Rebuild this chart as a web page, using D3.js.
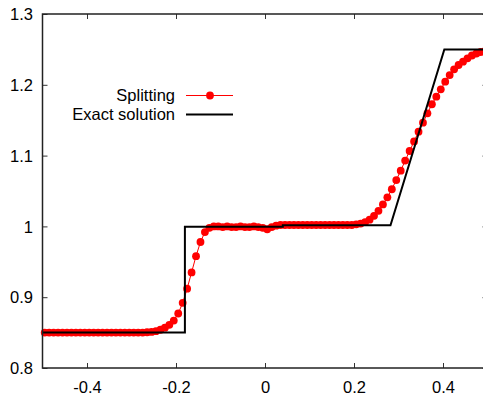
<!DOCTYPE html>
<html>
<head>
<meta charset="utf-8">
<script src="https://cdn.jsdelivr.net/npm/d3@7/dist/d3.min.js"></script>
<style>
  html, body { margin: 0; padding: 0; background: #fff; }
  svg { display: block; }
  text { font-family: "Liberation Sans", Arial, sans-serif; font-size: 16.5px; fill: #000; }
</style>
</head>
<body>
<svg id="chart" width="483" height="401"></svg>
<script>
// ---- data ----
const splitX = [
  -0.495,-0.485,-0.475,-0.465,-0.455,-0.445,-0.435,-0.425,-0.415,-0.405,
  -0.395,-0.385,-0.375,-0.365,-0.355,-0.345,-0.335,-0.325,-0.315,-0.305,
  -0.295,-0.285,-0.275,-0.265,-0.255,-0.245,-0.235,-0.225,-0.215,-0.205,
  -0.195,-0.185,-0.175,-0.165,-0.155,-0.145,-0.135,-0.125,-0.115,-0.105,
  -0.095,-0.085,-0.075,-0.065,-0.055,-0.045,-0.035,-0.025,-0.015,-0.005,
   0.005, 0.015, 0.025, 0.035, 0.045, 0.055, 0.065, 0.075, 0.085, 0.095,
   0.105, 0.115, 0.125, 0.135, 0.145, 0.155, 0.165, 0.175, 0.185, 0.195,
   0.205, 0.215, 0.225, 0.235, 0.245, 0.255, 0.265, 0.275, 0.285, 0.295,
   0.305, 0.315, 0.325, 0.335, 0.345, 0.355, 0.365, 0.375, 0.385, 0.395,
   0.405, 0.415, 0.425, 0.435, 0.445, 0.455, 0.465, 0.475, 0.485, 0.495
];
const splitY = [
  0.850,0.850,0.850,0.850,0.850,0.850,0.850,0.850,0.850,0.850,
  0.850,0.850,0.850,0.850,0.850,0.850,0.850,0.850,0.850,0.850,
  0.850,0.850,0.850,0.8505,0.851,0.852,0.854,0.857,0.861,0.867,
  0.877,0.892,0.912,0.935,0.958,0.978,0.992,0.998,1.000,1.000,
  0.999,1.000,0.999,0.999,1.000,0.999,0.999,1.000,0.999,0.998,
  0.996,0.999,1.001,1.002,1.002,1.002,1.002,1.002,1.002,1.002,
  1.002,1.002,1.002,1.002,1.002,1.002,1.002,1.002,1.002,1.002,
  1.003,1.004,1.006,1.0095,1.015,1.022,1.031,1.041,1.0525,1.0655,
  1.0787,1.093,1.1065,1.120,1.1338,1.1465,1.1597,1.1725,1.1832,1.1936,
  1.2044,1.2138,1.2219,1.228,1.2326,1.2374,1.2414,1.2442,1.2463,1.2477
];
const exactX = [-0.5, -0.18, -0.18, 0.04, 0.04, 0.282, 0.403, 0.5];
const exactY = [0.85, 0.85, 0.9995, 0.9995, 1.0015, 1.0015, 1.25, 1.25];
const xTicks = [-0.4, -0.2, 0, 0.2, 0.4];
const yTicks = [0.8, 0.9, 1.0, 1.1, 1.2, 1.3];
const xTickLabels = ["-0.4", "-0.2", "0", "0.2", "0.4"];
const yTickLabels = ["0.8", "0.9", "1", "1.1", "1.2", "1.3"];
const seriesNames = ["Splitting", "Exact solution"];

// ---- layout ----
const L = 42.5, R = 487.5, T = 14, B = 368;
const svg = d3.select("#chart");
const x = d3.scaleLinear().domain([-0.5, 0.5]).range([L, R]);
const y = d3.scaleLinear().domain([0.8, 1.3]).range([B, T]);

// splitting series
const splitData = splitX.map((v, i) => [v, splitY[i]]);
const line = d3.line().x(d => x(d[0])).y(d => y(d[1]));
svg.append("path").datum(splitData)
  .attr("d", line).attr("fill", "none").attr("stroke", "#ff0000").attr("stroke-width", 1);
svg.append("g").selectAll("circle").data(splitData).join("circle")
  .attr("cx", d => x(d[0])).attr("cy", d => y(d[1])).attr("r", 3.9).attr("fill", "#ff0000");

// exact solution
const exactData = exactX.map((v, i) => [v, exactY[i]]);
svg.append("path").datum(exactData)
  .attr("d", line).attr("fill", "none").attr("stroke", "#000").attr("stroke-width", 2);

// axes
const fmtX = (d, i) => xTickLabels[i];
const fmtY = (d, i) => yTickLabels[i];
const gB = svg.append("g").attr("transform", `translate(0,${B})`)
  .call(d3.axisBottom(x).tickValues(xTicks).tickFormat(fmtX).tickSize(-5).tickPadding(8));
const gT = svg.append("g").attr("transform", `translate(0,${T})`)
  .call(d3.axisTop(x).tickValues(xTicks).tickFormat("").tickSize(-5));
const gL = svg.append("g").attr("transform", `translate(${L},0)`)
  .call(d3.axisLeft(y).tickValues(yTicks).tickFormat(fmtY).tickSize(-5).tickPadding(9.5));
const gR = svg.append("g").attr("transform", `translate(${R},0)`)
  .call(d3.axisRight(y).tickValues(yTicks).tickFormat("").tickSize(-5));
[gB, gT, gL, gR].forEach(g => {
  g.select(".domain").remove();
  g.selectAll(".tick line").attr("stroke", "#333").attr("stroke-width", 1);
  g.selectAll("text").attr("font-family", "Liberation Sans, Arial, sans-serif").attr("font-size", 16.5).attr("fill", "#000");
});
gB.selectAll(".tick text").attr("dy", "1em");
gL.selectAll(".tick text").attr("dy", "0.35em");

// frame
svg.append("rect").attr("x", L).attr("y", T).attr("width", R - L).attr("height", B - T)
  .attr("fill", "none").attr("stroke", "#222").attr("stroke-width", 1.5);

// legend
const lg = svg.append("g");
const legY = [95.5, 114.5];
lg.selectAll("text").data(seriesNames).join("text")
  .attr("x", 175).attr("y", (d, i) => legY[i]).attr("dy", "0.35em")
  .attr("text-anchor", "end").text(d => d);
lg.append("line").attr("x1", 186).attr("x2", 233).attr("y1", legY[0]).attr("y2", legY[0])
  .attr("stroke", "#ff0000").attr("stroke-width", 1);
lg.append("circle").attr("cx", 210).attr("cy", legY[0]).attr("r", 3.9).attr("fill", "#ff0000");
lg.append("line").attr("x1", 186).attr("x2", 233).attr("y1", legY[1]).attr("y2", legY[1])
  .attr("stroke", "#000").attr("stroke-width", 2);
</script>
</body>
</html>
